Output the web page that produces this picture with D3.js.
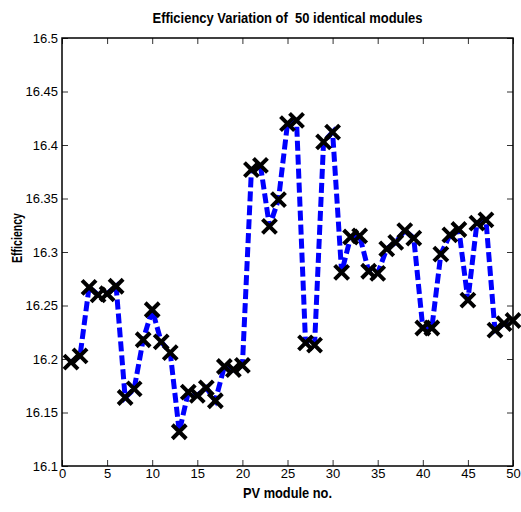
<!DOCTYPE html>
<html>
<head>
<meta charset="utf-8">
<script src="https://cdn.jsdelivr.net/npm/d3@7"></script>
<style>
  body { margin: 0; background: #fff; }
  text { font-family: Arial, "Liberation Sans", sans-serif; }
</style>
</head>
<body>
<svg id="chart" width="521" height="512"></svg>
<script>
const moduleNo = d3.range(1, 51);
const efficiency = [
  16.197, 16.203, 16.267, 16.260, 16.261, 16.268, 16.164, 16.172, 16.218, 16.246,
  16.216, 16.206, 16.132, 16.169, 16.166, 16.173, 16.161, 16.193, 16.190, 16.194,
  16.377, 16.381, 16.324, 16.349, 16.420, 16.423, 16.215, 16.213, 16.403, 16.412,
  16.281, 16.314, 16.315, 16.282, 16.280, 16.303, 16.309, 16.320, 16.313, 16.229,
  16.229, 16.298, 16.316, 16.321, 16.255, 16.327, 16.330, 16.227, 16.233, 16.236
];
const xTicks = [0, 5, 10, 15, 20, 25, 30, 35, 40, 45, 50];
const yTicks = [16.1, 16.15, 16.2, 16.25, 16.3, 16.35, 16.4, 16.45, 16.5];

const margin = { top: 38, right: 8, bottom: 46, left: 62 };
const W = 521, H = 512;
const width = W - margin.left - margin.right;
const height = H - margin.top - margin.bottom;

const svg = d3.select("#chart");
const g = svg.append("g").attr("transform", `translate(${margin.left},${margin.top})`);

const x = d3.scaleLinear().domain([0, 50]).range([0, width]);
const y = d3.scaleLinear().domain([16.1, 16.5]).range([height, 0]);

// axes with inward ticks (box style)
const tickLen = 6;
g.append("g").attr("transform", `translate(0,${height})`)
  .call(d3.axisBottom(x).tickValues(xTicks).tickSize(-tickLen).tickPadding(3).tickFormat(d3.format("d")))
  .call(a => a.select(".domain").remove())
  .call(a => a.selectAll("text").attr("font-size", 13).attr("fill", "#000"));
g.append("g")
  .call(d3.axisTop(x).tickValues(xTicks).tickSize(-tickLen).tickFormat(""))
  .call(a => a.select(".domain").remove());
g.append("g")
  .call(d3.axisLeft(y).tickValues(yTicks).tickSize(-tickLen).tickPadding(4).tickFormat(d => d3.format("")(+d.toFixed(2))))
  .call(a => a.select(".domain").remove())
  .call(a => a.selectAll("text").attr("font-size", 13).attr("fill", "#000"));
g.append("g").attr("transform", `translate(${width},0)`)
  .call(d3.axisRight(y).tickValues(yTicks).tickSize(-tickLen).tickFormat(""))
  .call(a => a.select(".domain").remove());
g.selectAll(".tick line").attr("stroke", "#333");

g.append("rect")
  .attr("width", width).attr("height", height)
  .attr("fill", "none").attr("stroke", "#000").attr("stroke-width", 1.5);

const data = moduleNo.map((m, i) => ({ m, v: efficiency[i] }));

g.append("path")
  .datum(data)
  .attr("fill", "none")
  .attr("stroke", "#0000ff")
  .attr("stroke-width", 5)
  .attr("stroke-dasharray", "10,4")
  .attr("d", d3.line().x(d => x(d.m)).y(d => y(d.v)));

const s = 7;
g.selectAll(".mark")
  .data(data)
  .join("path")
  .attr("class", "mark")
  .attr("transform", d => `translate(${x(d.m)},${y(d.v)})`)
  .attr("d", `M${-s},${-s}L${s},${s}M${-s},${s}L${s},${-s}`)
  .attr("stroke", "#000")
  .attr("stroke-width", 4)
  .attr("fill", "none");

svg.append("text")
  .attr("x", margin.left + width / 2).attr("y", 23)
  .attr("text-anchor", "middle").attr("font-weight", "bold").attr("font-size", 14)
  .attr("textLength", 270).attr("lengthAdjust", "spacingAndGlyphs")
  .style("white-space", "pre")
  .text("Efficiency Variation of  50 identical modules");

svg.append("text")
  .attr("x", margin.left + width / 2).attr("y", 498)
  .attr("text-anchor", "middle").attr("font-weight", "bold").attr("font-size", 15)
  .attr("textLength", 89).attr("lengthAdjust", "spacingAndGlyphs")
  .text("PV module no.");

svg.append("text")
  .attr("transform", "translate(22,238) rotate(-90)")
  .attr("text-anchor", "middle").attr("font-weight", "bold").attr("font-size", 15)
  .attr("textLength", 50).attr("lengthAdjust", "spacingAndGlyphs")
  .text("Efficiency");
</script>
</body>
</html>
